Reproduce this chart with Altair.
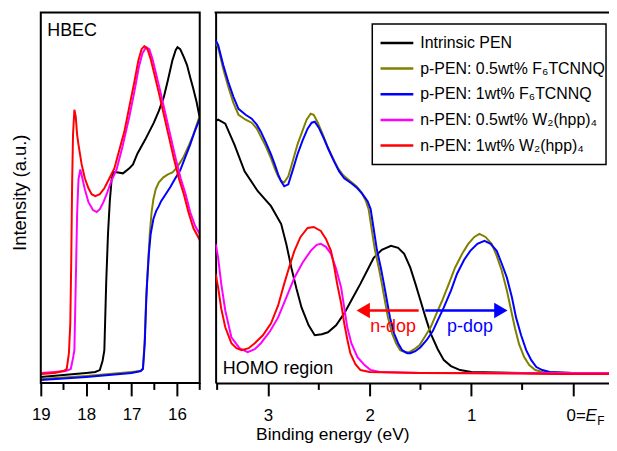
import altair as alt
import pandas as pd

series_names = ["Intrinsic PEN", "p-PEN: 0.5wt% F\u2086TCNNQ", "p-PEN: 1wt% F\u2086TCNNQ",
                "n-PEN: 0.5wt% W\u2082(hpp)\u2084", "n-PEN: 1wt% W\u2082(hpp)\u2084"]
series_colors = ["#000000", "#808000", "#0000FF", "#FF00FF", "#FF0000"]

# ---------------- HBEC region (binding energy, intensity) ----------------
hb_black_e = [19.0, 18.5, 18.0, 17.8, 17.70, 17.64, 17.60, 17.56, 17.52, 17.48, 17.44, 17.40, 17.33, 17.19,
              17.05, 16.97, 16.87, 16.70, 16.51, 16.40, 16.29, 16.20, 16.10, 16.03, 15.99, 15.93, 15.85, 15.78,
              15.70, 15.64, 15.57, 15.50]
hb_black_i = [6, 8, 10, 11, 13, 22, 33, 100, 150, 183, 205, 212, 212, 211, 216, 220, 231, 245, 262, 274, 288,
              305, 325, 335, 338, 336, 328, 320, 306, 296, 283, 267]

hb_olive_e = [19.0, 18.0, 17.0, 16.80, 16.75, 16.71, 16.68, 16.65, 16.60, 16.56, 16.52, 16.47, 16.40, 16.30,
              16.20, 16.10, 16.02, 15.93, 15.85, 15.75, 15.64, 15.50]
hb_olive_i = [4, 7, 11, 12, 15, 45, 85, 110, 150, 172, 185, 195, 202, 207, 210, 212, 216, 222, 228, 238, 250, 269]

hb_blue_e = [19.0, 18.0, 17.0, 16.80, 16.75, 16.71, 16.68, 16.66, 16.62, 16.58, 16.52, 16.46, 16.40, 16.35,
             16.25, 16.15, 16.05, 15.93, 15.82, 15.71, 15.62, 15.50]
hb_blue_i = [3, 6, 10, 12, 14, 40, 80, 100, 130, 150, 165, 173, 178, 183, 190, 197, 205, 214, 227, 240, 252, 266]

hb_mag_e = [19.0, 18.7, 18.45, 18.34, 18.29, 18.26, 18.23, 18.20, 18.17, 18.13, 18.09, 18.03, 17.95, 17.85,
            17.77, 17.70, 17.62, 17.55, 17.45, 17.33, 17.20, 17.05, 16.94, 16.84, 16.76, 16.68, 16.61, 16.54,
            16.47, 16.36, 16.25, 16.14, 16.03, 15.92, 15.81, 15.71, 15.60, 15.50]
hb_mag_i = [10, 11, 12, 14, 25, 33, 100, 170, 205, 215, 207, 195, 182, 174, 172, 175, 182, 190, 203, 215, 238,
            268, 293, 318, 332, 338, 336, 326, 313, 292, 270, 248, 226, 206, 190, 172, 158, 150]

hb_red_e = [19.0, 18.7, 18.5, 18.43, 18.38, 18.35, 18.33, 18.31, 18.29, 18.26, 18.23, 18.20, 18.17, 18.10,
            18.03, 17.95, 17.88, 17.80, 17.70, 17.60, 17.50, 17.38, 17.25, 17.16, 17.05, 16.94, 16.85, 16.78,
            16.72, 16.65, 16.58, 16.51, 16.40, 16.29, 16.18, 16.07, 15.96, 15.85, 15.75, 15.64, 15.50]
hb_red_i = [9, 10, 12, 14, 30, 60, 120, 200, 250, 275, 268, 250, 240, 220, 206, 196, 190, 188, 190, 196, 205,
            216, 238, 253, 278, 303, 325, 336, 339, 336, 326, 313, 292, 270, 248, 226, 206, 190, 172, 156, 144]

# ---------------- HOMO region ----------------
ho_black_e = [3.515, 3.49, 3.42, 3.33, 3.23, 3.10, 2.97, 2.87, 2.82, 2.77, 2.72, 2.67, 2.60, 2.54, 2.47, 2.41,
              2.33, 2.25, 2.17, 2.09, 2.02, 1.96, 1.88, 1.79, 1.72, 1.66, 1.60, 1.55, 1.50, 1.45, 1.40, 1.33,
              1.27, 1.20, 1.11, 1.0, 0.5, 0.0, -0.423]
ho_black_i = [264, 265, 261, 240, 213, 193, 178, 160, 140, 116, 95, 76, 58, 48, 49, 51, 58, 70, 85, 100, 114,
              126, 134, 138, 136, 130, 116, 100, 83, 66, 50, 34, 23, 17, 13, 11, 10, 9, 9]

ho_olive_e = [3.515, 3.49, 3.44, 3.39, 3.34, 3.29, 3.22, 3.16, 3.11, 3.07, 3.02, 2.97, 2.93, 2.90, 2.87, 2.84,
              2.80, 2.76, 2.71, 2.66, 2.62, 2.58, 2.55, 2.51, 2.46, 2.41, 2.36, 2.31, 2.26, 2.19, 2.13, 2.08,
              2.04, 2.01, 1.98, 1.95, 1.91, 1.88, 1.85, 1.82, 1.78, 1.74, 1.70, 1.65, 1.61, 1.56, 1.51, 1.46,
              1.40, 1.35, 1.29, 1.22, 1.16, 1.09, 1.03, 0.97, 0.92, 0.86, 0.80, 0.75, 0.70, 0.65, 0.61, 0.57,
              0.53, 0.48, 0.43, 0.37, 0.30, 0.0, -0.423]
ho_olive_i = [343, 338, 316, 298, 282, 270, 265, 262, 256, 248, 238, 226, 215, 208, 203, 202, 208, 222, 240,
              254, 265, 271, 270, 262, 250, 237, 226, 216, 209, 203, 198, 192, 184, 175, 155, 135, 116, 100, 83,
              66, 50, 40, 33, 31, 31, 34, 38, 46, 56, 68, 82, 100, 116, 130, 140, 147, 150, 147, 140, 128, 113,
              93, 74, 55, 39, 26, 18, 13, 11, 10, 10]

ho_blue_e = [3.515, 3.49, 3.44, 3.39, 3.34, 3.29, 3.22, 3.16, 3.11, 3.07, 3.02, 2.97, 2.93, 2.90, 2.87, 2.84,
             2.80, 2.76, 2.71, 2.66, 2.61, 2.57, 2.54, 2.50, 2.45, 2.40, 2.35, 2.30, 2.25, 2.18, 2.12, 2.07,
             2.02, 1.99, 1.96, 1.93, 1.89, 1.86, 1.83, 1.80, 1.76, 1.72, 1.68, 1.63, 1.60, 1.55, 1.50, 1.44,
             1.38, 1.33, 1.27, 1.20, 1.14, 1.07, 1.01, 0.94, 0.87, 0.81, 0.75, 0.70, 0.65, 0.60, 0.56, 0.51,
             0.46, 0.41, 0.36, 0.30, 0.23, 0.0, -0.423]
ho_blue_i = [345, 340, 320, 303, 288, 276, 270, 266, 260, 253, 242, 230, 219, 210, 203, 198, 200, 213, 230,
             244, 256, 262, 263, 257, 246, 234, 223, 213, 206, 201, 196, 190, 183, 175, 155, 135, 116, 100, 83,
             66, 50, 40, 33, 30, 30, 32, 36, 43, 52, 63, 76, 93, 110, 124, 133, 140, 143, 140, 133, 120, 106,
             86, 66, 48, 33, 23, 16, 13, 11, 10, 10]

ho_mag_e = [3.515, 3.49, 3.46, 3.42, 3.36, 3.28, 3.20, 3.13, 3.07, 2.98, 2.90, 2.82, 2.74, 2.66, 2.58, 2.52,
            2.48, 2.43, 2.38, 2.33, 2.28, 2.25, 2.22, 2.18, 2.12, 2.05, 1.99, 1.9, 1.5, 0.0, -0.423]
ho_mag_i = [140, 126, 100, 73, 46, 35, 31, 34, 40, 52, 66, 86, 106, 121, 133, 139, 140, 137, 130, 115, 96, 76,
            56, 40, 26, 18, 13, 11, 10, 10, 10]

ho_red_e = [3.515, 3.49, 3.46, 3.42, 3.36, 3.31, 3.26, 3.19, 3.13, 3.05, 2.97, 2.90, 2.84, 2.79, 2.74, 2.68,
            2.61, 2.55, 2.48, 2.43, 2.38, 2.35, 2.32, 2.28, 2.25, 2.22, 2.19, 2.14, 2.09, 2.0, 1.5, 0.0, -0.423]
ho_red_i = [110, 96, 75, 56, 40, 35, 33, 35, 40, 48, 60, 78, 100, 117, 133, 147, 156, 157, 153, 145, 133, 118,
            100, 80, 60, 44, 30, 19, 13, 11, 10, 9, 9]

# arrows (start, arrowhead, height) and their labels
arrow_names = ["n-dop", "p-dop"]
arrow_start = [1.518, 1.453]
arrow_head = [2.063, 0.709]
arrow_level = [73, 73]
arrow_label_e = [1.770, 1.013]
arrow_label_i = [51, 51]
arrow_colors = ["#FF0000", "#0000FF"]
arrow_shapes = ["triangle-left", "triangle-right"]

left_major = [19, 18, 17, 16]
left_minor = [18.5, 17.5, 16.5, 15.5]
right_major = [3, 2, 1, 0]
right_minor = [3.5, 2.5, 1.5, 0.5]

FONT = "Liberation Sans"


def make_df(groups):
    rows = []
    for name, es, vs in groups:
        for e, v in zip(es, vs):
            rows.append({"series": name, "e": e, "v": v})
    return pd.DataFrame(rows)


hbec_df = make_df([
    (series_names[0], hb_black_e, hb_black_i),
    (series_names[1], hb_olive_e, hb_olive_i),
    (series_names[2], hb_blue_e, hb_blue_i),
    (series_names[3], hb_mag_e, hb_mag_i),
    (series_names[4], hb_red_e, hb_red_i),
])
homo_df = make_df([
    (series_names[0], ho_black_e, ho_black_i),
    (series_names[1], ho_olive_e, ho_olive_i),
    (series_names[2], ho_blue_e, ho_blue_i),
    (series_names[3], ho_mag_e, ho_mag_i),
    (series_names[4], ho_red_e, ho_red_i),
])

LW, RW, H = 160, 403, 373
ydom = [0, 373]
color_scale = alt.Scale(domain=series_names, range=series_colors)
one = pd.DataFrame({"k": [0]})

# ---------------- left panel ----------------
lxs = alt.Scale(domain=[19, 15.5], nice=False, zero=False)
ys = alt.Scale(domain=ydom, nice=False, zero=False)
left_x_axis = alt.Axis(values=left_major, tickSize=13, tickWidth=2, tickColor="black",
                       domain=False, grid=False, title=None, labelFontSize=17, labelColor="black",
                       labelFlush=False, labelPadding=11, labelFont=FONT, format="d")
left_y_axis = alt.Axis(title="Intensity (a.u.)", labels=False, ticks=False, domain=False, grid=False,
                       titleFontSize=18.5, titleFontWeight="normal", titleFont=FONT, titleColor="black",
                       titlePadding=11, titleY=181)

left_lines = alt.Chart(hbec_df).mark_line(strokeWidth=2, clip=True).encode(
    x=alt.X("e:Q", scale=lxs, axis=left_x_axis),
    y=alt.Y("v:Q", scale=ys, axis=left_y_axis),
    color=alt.Color("series:N", scale=color_scale, legend=None),
    detail="series:N",
)
left_minor_ticks = alt.Chart(pd.DataFrame({"t": left_minor})).mark_rule(color="black", strokeWidth=2).encode(
    x=alt.X("t:Q", scale=lxs), y=alt.value(H), y2=alt.value(H + 7))
left_frame = alt.Chart(one).mark_rect(filled=False, stroke="black", strokeWidth=2).encode(
    x=alt.value(0), x2=alt.value(LW), y=alt.value(0), y2=alt.value(H))
left_label = alt.Chart(one).mark_text(text="HBEC", align="left", baseline="alphabetic", fontSize=18,
                                      font=FONT, color="black").encode(x=alt.value(6.5), y=alt.value(23.3))
left_anchor = alt.Chart(one).mark_rect(opacity=0, color="white").encode(
    x=alt.value(-32), x2=alt.value(-31), y=alt.value(-2), y2=alt.value(H + 81))
left = alt.layer(left_lines, left_minor_ticks, left_frame, left_label, left_anchor).properties(
    width=LW, height=H)

# ---------------- right panel ----------------
xs = alt.Scale(domain=[3.515, -0.423], nice=False, zero=False)
right_x_axis = alt.Axis(values=right_major, tickSize=13, tickWidth=2, tickColor="black",
                        domain=True, domainColor="black", domainWidth=2, grid=False,
                        title="Binding energy (eV)", titleFontSize=17.5, titleFontWeight="normal",
                        titleFont=FONT, titleColor="black", titleX=117.5, titleY=56.5,
                        titleBaseline="alphabetic", titleAlign="center",
                        labelFontSize=17, labelColor="black", labelFlush=False, labelPadding=12,
                        labelFont=FONT,
                        labelExpr="datum.value === 0 ? '' : '' + datum.value")
right_y_axis = alt.Axis(title=None, labels=False, ticks=False, domain=True, domainColor="black",
                        domainWidth=2, grid=False)

right_lines = alt.Chart(homo_df).mark_line(strokeWidth=2, clip=True).encode(
    x=alt.X("e:Q", scale=xs, axis=right_x_axis),
    y=alt.Y("v:Q", scale=ys, axis=right_y_axis),
    color=alt.Color("series:N", scale=color_scale, legend=None),
    detail="series:N",
)
right_minor_ticks = alt.Chart(pd.DataFrame({"t": right_minor})).mark_rule(color="black", strokeWidth=2).encode(
    x=alt.X("t:Q", scale=xs), y=alt.value(H), y2=alt.value(H + 7))
top_rule = alt.Chart(one).mark_rule(color="black", strokeWidth=2, strokeCap="square").encode(
    x=alt.value(0), x2=alt.value(RW), y=alt.value(0))
right_anchor = alt.Chart(one).mark_rect(opacity=0, color="white").encode(
    x=alt.value(RW + 10), x2=alt.value(RW + 11), y=alt.value(-2), y2=alt.value(H + 81))

arrow_df = pd.DataFrame({"name": arrow_names, "start": arrow_start, "head": arrow_head, "lvl": arrow_level,
                         "le": arrow_label_e, "li": arrow_label_i, "col": arrow_colors,
                         "shape": arrow_shapes})
arrow_lines = alt.Chart(arrow_df).mark_rule(strokeWidth=2.5).encode(
    x=alt.X("start:Q", scale=xs), x2="head:Q", y=alt.Y("lvl:Q", scale=ys),
    color=alt.Color("col:N", scale=None, legend=None))
arrow_heads = alt.Chart(arrow_df).mark_point(filled=True, size=240, opacity=1).encode(
    x=alt.X("head:Q", scale=xs), y=alt.Y("lvl:Q", scale=ys),
    shape=alt.Shape("shape:N", scale=None, legend=None),
    color=alt.Color("col:N", scale=None, legend=None))
arrow_text = alt.Chart(arrow_df).mark_text(fontSize=18, font=FONT, baseline="alphabetic",
                                           align="center").encode(
    x=alt.X("le:Q", scale=xs), y=alt.Y("li:Q", scale=ys), text="name:N",
    color=alt.Color("col:N", scale=None, legend=None))

homo_label = alt.Chart(one).mark_text(text="HOMO region", align="left", baseline="alphabetic",
                                      fontSize=18, font=FONT, color="black").encode(
    x=alt.value(7.3), y=alt.value(364))

zero_df = pd.DataFrame({"e": [0]})
zero_a = alt.Chart(zero_df).mark_text(text="0=", align="left", baseline="alphabetic", fontSize=17,
                                      font=FONT, color="black", dx=-6.4).encode(
    x=alt.X("e:Q", scale=xs), y=alt.value(411.5))
zero_b = alt.Chart(zero_df).mark_text(text="E", align="left", baseline="alphabetic", fontSize=17,
                                      font=FONT, fontStyle="italic", color="black", dx=12.6).encode(
    x=alt.X("e:Q", scale=xs), y=alt.value(411.5))
zero_c = alt.Chart(zero_df).mark_text(text="F", align="left", baseline="alphabetic", fontSize=12,
                                      font=FONT, color="black", dx=24.5).encode(
    x=alt.X("e:Q", scale=xs), y=alt.value(415.5))

legend_box = alt.Chart(one).mark_rect(fill="white", stroke="black", strokeWidth=1.5).encode(
    x=alt.value(157.7), x2=alt.value(393), y=alt.value(11.7), y2=alt.value(153))
legend_df = pd.DataFrame({"series": series_names, "row": list(range(len(series_names)))})
leg_y = alt.Y("row:Q", scale=alt.Scale(domain=[0, len(series_names) - 1], range=[30.7, 134],
                                       nice=False, zero=False), axis=None)
legend_lines = alt.Chart(legend_df).mark_rule(strokeWidth=2.5).encode(
    x=alt.value(166), x2=alt.value(199), y=leg_y,
    color=alt.Color("series:N", scale=color_scale, legend=None))
legend_text = alt.Chart(legend_df).mark_text(align="left", baseline="middle", fontSize=16, font=FONT,
                                             color="black").encode(
    x=alt.value(206), y=leg_y, text="series:N")

data_layer = alt.layer(right_lines, right_minor_ticks, top_rule, arrow_lines, arrow_heads, arrow_text,
                       homo_label, zero_a, zero_b, zero_c, legend_box, right_anchor)
legend_layer = alt.layer(legend_lines, legend_text)
right = alt.layer(data_layer, legend_layer).resolve_scale(y="independent").properties(width=RW, height=H)

# the page holds 601 x 435 px of chart; what lies beyond is cropped, as in the reference
chart = alt.hconcat(left, right, spacing=12).properties(
    padding={"left": 0, "top": 0, "right": -19, "bottom": -21}
).configure_view(stroke=None).configure(font=FONT)

chart.save("out.html", embed_options={"renderer": "svg", "actions": False})
